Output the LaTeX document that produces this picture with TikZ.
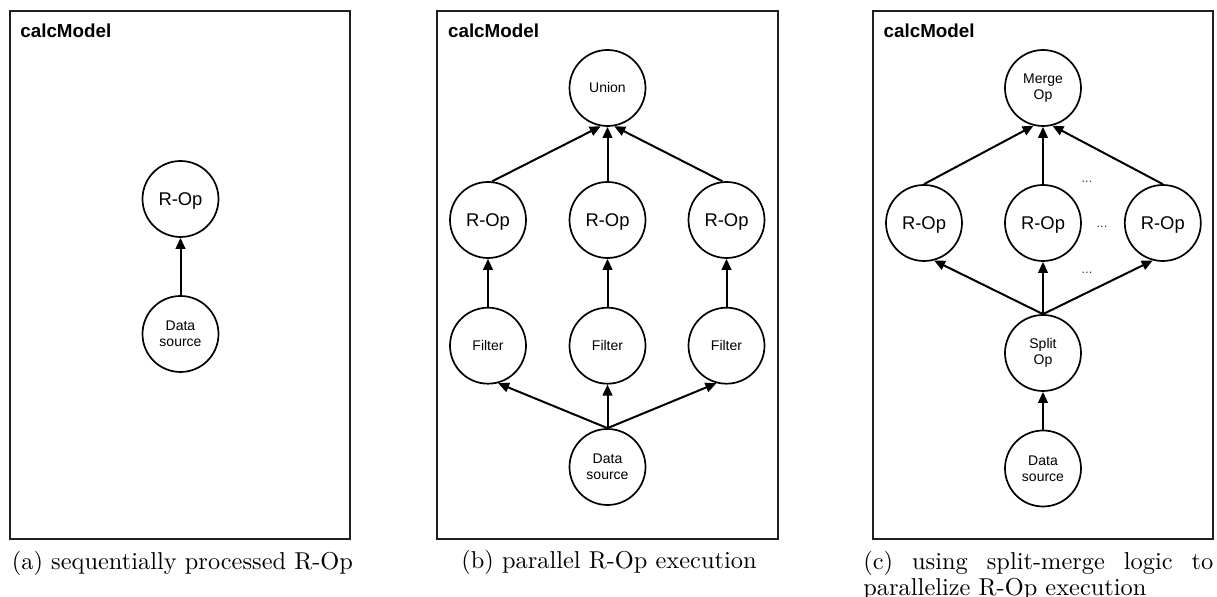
\documentclass[tikz,border=0pt]{standalone}
\usepackage{fontspec}
\usepackage{graphicx}
\usetikzlibrary{arrows.meta}
\newfontfamily\arial{Liberation Sans}
\begin{document}
\begin{tikzpicture}[x=0.5pt,y=-0.5pt,
  frame/.style={draw=black!88,line width=1pt},
  op/.style={circle,draw,line width=0.85pt,minimum size=38pt,inner sep=0pt,
    font=\arial\fontsize{9.2}{11}\selectfont,text depth=0pt},
  sm/.style={circle,draw,line width=0.85pt,minimum size=38pt,inner sep=0pt,
    font=\arial\fontsize{7}{8.2}\selectfont,align=center},
  arr/.style={-{Triangle[length=5.5pt,width=4.8pt]},line width=1pt},
  title/.style={anchor=base west,inner sep=0pt,font=\arial\bfseries\fontsize{9.4}{11}\selectfont},
  dots/.style={inner sep=0pt,font=\arial\fontsize{6.5}{7}\selectfont,text=black!75},
  captext/.style={inner sep=0pt}]
\path[use as bounding box] (0,0) rectangle (1217,597);

% ---------- panel (a)
\draw[frame] (9.5,11.5) rectangle (350,539);
\node[title] (ta) at (20,38) {calcModel};
\node[op] (aop) at (180.5,199) {R-Op};
\node[sm] (ads) at (180.5,334) {Data\\source};
\draw[arr] (ads) -- (aop);
\node[captext,anchor=base west] (capa) at (11.5,570)
  {\scalebox{1.22}{\fontsize{10}{12}\selectfont (a) sequentially processed R-Op}};

% ---------- panel (b)
\draw[frame] (437,11.5) rectangle (778,539);
\node[title] (tb) at (447.7,38) {calcModel};
\node[sm] (un) at (607.5,88) {Union};
\node[op] (rl) at (488,220) {R-Op};
\node[op] (rm) at (607.5,220) {R-Op};
\node[op] (rr) at (726.5,220) {R-Op};
\node[sm] (fl) at (488,345.7) {Filter};
\node[sm] (fm) at (607.5,345.7) {Filter};
\node[sm] (fr) at (726.5,345.7) {Filter};
\node[sm] (bds) at (607.5,467) {Data\\source};
\draw[arr] (rl.84) -- (un.260);
\draw[arr] (rm) -- (un);
\draw[arr] (rr.96) -- (un.280);
\draw[arr] (fl) -- (rl);
\draw[arr] (fm) -- (rm);
\draw[arr] (fr) -- (rr);
\draw[arr] (bds.north) -- (fl.285);
\draw[arr] (bds) -- (fm);
\draw[arr] (bds.north) -- (fr.255);
\node[captext,anchor=base] (capb) at (609,569)
  {\scalebox{1.22}{\fontsize{10}{12}\selectfont (b) parallel R-Op execution}};

% ---------- panel (c)
\draw[frame] (872.7,11.5) rectangle (1213,539);
\node[title] (tc) at (883.3,38) {calcModel};
\node[sm] (mg) at (1043,88) {Merge\\Op};
\node[op] (cl) at (924,223) {R-Op};
\node[op] (cm) at (1043,223) {R-Op};
\node[op] (cr) at (1162.8,223) {R-Op};
\node[sm] (sp) at (1043,353) {Split\\Op};
\node[sm] (cds) at (1043,468.5) {Data\\source};
\node[dots] (d1) at (1087,182) {...};
\node[dots] (d2) at (1102,226.7) {...};
\node[dots] (d3) at (1087,273) {...};
\draw[arr] (cl.north) -- (mg.256);
\draw[arr] (cm) -- (mg);
\draw[arr] (cr.north) -- (mg.284);
\draw[arr] (sp.north) -- (cl.285);
\draw[arr] (sp) -- (cm);
\draw[arr] (sp.north) -- (cr.255);
\draw[arr] (cds) -- (sp);
\node[captext,anchor=base west] (capc) at (863,569.5)
  {\scalebox{1.22}{\parbox[t]{143.4pt}{\fontsize{10}{8.8}\selectfont
   \makebox[143.4pt][s]{(c) using split-merge logic to}\\
   parallelize R-Op execution}}};
\end{tikzpicture}
\end{document}
